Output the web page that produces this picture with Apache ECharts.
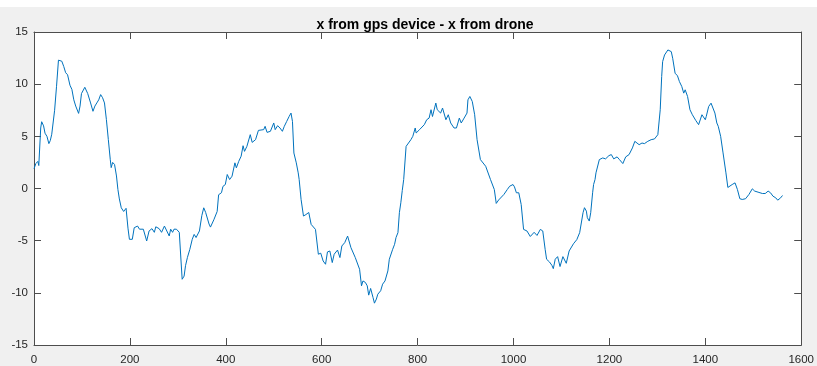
<!DOCTYPE html>
<html>
<head>
<meta charset="utf-8">
<script src="https://cdn.jsdelivr.net/npm/echarts@6/dist/echarts.min.js"></script>
<style>
html,body{margin:0;padding:0;background:#f0f0f0;}
#chart{width:817px;height:366px;}
</style>
</head>
<body>
<div id="chart"></div>
<script>
const titleText = 'x from gps device - x from drone';
const xTicks = [0, 200, 400, 600, 800, 1000, 1200, 1400, 1600];
const yTicks = [-15, -10, -5, 0, 5, 10, 15];

const xs = [0,4,8,10,14,16,20,23,27,31,34,37,43,47,51,54,58,62,66,70,75,79,83,87,93,96,99,106,112,118,123,127,131,135,139,141,143,147,151,155,159,161,164,168,172,175,178,182,187,192,196,199,205,209,216,220,228,235,240,246,251,254,261,266,272,276,282,285,289,292,297,303,306,309,313,316,320,325,330,334,338,342,345,350,354,358,361,365,368,375,382,385,391,394,399,403,408,413,419,422,427,432,436,439,444,451,455,462,465,468,479,482,486,493,496,500,503,508,513,518,522,527,532,536,539,542,547,551,553,557,562,567,571,573,578,582,587,593,598,603,608,612,617,622,626,633,638,642,648,654,656,661,665,670,674,679,683,686,691,695,698,702,707,710,714,717,723,727,732,738,741,745,748,752,755,759,762,765,768,771,776,786,790,795,797,804,814,819,824,828,831,838,841,848,852,859,864,869,876,881,887,891,897,903,905,909,912,914,919,924,931,942,952,960,964,969,980,987,992,999,1002,1006,1011,1016,1021,1028,1035,1043,1049,1056,1061,1066,1069,1075,1080,1083,1087,1092,1097,1103,1107,1110,1116,1125,1132,1138,1145,1148,1152,1154,1158,1161,1165,1167,1170,1172,1179,1186,1192,1199,1204,1209,1216,1221,1228,1234,1241,1248,1253,1257,1262,1268,1273,1280,1287,1294,1301,1306,1309,1311,1315,1322,1329,1332,1337,1342,1346,1351,1355,1358,1363,1368,1373,1380,1386,1389,1393,1396,1400,1402,1407,1412,1416,1420,1424,1427,1432,1437,1443,1447,1449,1456,1462,1467,1472,1477,1484,1491,1498,1503,1510,1519,1525,1531,1536,1541,1547,1551,1557,1561];

const ys = [1.9,2.4,2.6,2.2,5.8,6.4,6.0,5.3,5.0,4.3,4.6,5.2,7.5,9.8,12.3,12.4,12.2,11.7,11.1,10.9,9.9,9.5,8.5,7.9,7.2,7.9,9.1,9.7,9.1,8.2,7.4,7.9,8.2,8.5,9.0,9.1,8.7,8.2,6.6,4.7,2.8,2.0,2.5,2.3,1.2,-0.1,-1.0,-1.85,-2.2,-1.9,-3.8,-4.87,-4.87,-3.76,-3.6,-3.9,-3.9,-5.03,-4.07,-3.85,-4.2,-3.67,-3.85,-4.2,-3.6,-3.6,-4.55,-3.9,-4.2,-3.9,-3.9,-4.2,-6.47,-8.7,-8.4,-7.4,-6.6,-5.83,-4.87,-4.4,-4.7,-4.7,-4.07,-2.6,-1.85,-2.3,-2.2,-3.4,-3.7,-3.0,-2.2,-0.6,-0.4,0.2,0.38,1.34,0.86,1.18,2.46,1.98,2.6,3.1,4.1,3.56,4.04,5.16,4.42,4.68,4.84,5.57,5.64,5.96,5.38,5.48,5.64,6.28,5.64,6.02,5.8,5.48,5.96,6.43,6.9,7.23,6.43,3.4,2.46,1.5,0.86,-1.05,-2.64,-2.5,-2.39,-2.3,-3.44,-3.28,-3.92,-6.3,-6.2,-6.95,-7.26,-6.08,-5.99,-7.1,-6.3,-5.9,-6.62,-5.51,-5.19,-4.56,-4.56,-5.67,-5.83,-6.62,-6.47,-7.74,-9.33,-8.86,-9.0,-9.33,-10.22,-9.58,-10.44,-10.99,-10.6,-10.13,-9.8,-9.17,-8.86,-7.9,-6.78,-6.62,-5.83,-5.35,-4.7,-4.23,-2.32,-1.37,-0.2,0.86,4.04,4.68,5.0,5.8,5.32,5.64,6.12,6.59,6.75,7.55,6.9,8.19,7.55,7.23,7.71,6.59,7.07,6.28,5.8,5.8,6.75,6.28,6.75,7.23,8.5,8.82,8.98,8.34,7.07,4.68,2.77,2.13,0.86,-0.1,-1.43,-1.1,-0.57,-0.1,0.22,0.38,0.16,-0.41,-0.41,-1.53,-3.92,-4.07,-4.6,-4.2,-4.5,-3.92,-4.07,-5.83,-6.78,-7.04,-7.36,-7.68,-6.78,-6.53,-7.48,-6.53,-6.62,-7.17,-5.99,-5.3,-4.9,-4.23,-2.32,-1.84,-2.17,-2.8,-3.12,-2.32,-0.41,0.38,0.86,1.5,2.77,2.93,2.84,3.15,3.25,2.84,3.03,2.77,2.39,3.03,3.25,3.89,4.52,4.52,4.2,4.36,4.3,4.52,4.68,4.75,5.16,7.55,10.73,12.16,12.8,13.28,13.12,12.48,11.05,10.8,10.25,9.77,9.14,9.46,8.82,7.55,7.07,6.53,6.12,5.96,7.07,6.97,6.59,6.91,7.86,8.18,8.12,7.23,6.28,5.96,5.0,3.41,1.5,0.1,-0.03,0.38,0.54,-0.1,-0.98,-1.05,-0.98,-0.57,-0.03,-0.25,-0.35,-0.48,-0.48,-0.25,-0.41,-0.73,-0.9,-1.12,-0.9,-0.67];

const seriesData = xs.map((x, i) => [x, ys[i]]);

const chart = echarts.init(document.getElementById('chart'), null, {renderer: 'canvas'});
const FONT = 'Liberation Sans, Arial, Helvetica, sans-serif';
const axisColor = '#4d4d4d';
const xMin = xTicks[0], xMax = xTicks[xTicks.length - 1];
const yMin = yTicks[0], yMax = yTicks[yTicks.length - 1];
const xInt = xTicks[1] - xTicks[0], yInt = yTicks[1] - yTicks[0];

function xAxisCfg(pos, showLabel) {
  return {
    type: 'value', position: pos, min: xMin, max: xMax, interval: xInt,
    axisLine: {show: true, onZero: false, lineStyle: {color: axisColor, width: 1}},
    axisTick: {show: true, inside: true, length: 7, lineStyle: {color: axisColor}},
    axisLabel: {show: showLabel, color: '#262626', fontSize: 11.5, fontFamily: FONT, margin: 9,
      showMaxLabel: true, showMinLabel: true, formatter: v => String(v)},
    splitLine: {show: false}
  };
}
function yAxisCfg(pos, showLabel) {
  return {
    type: 'value', position: pos, min: yMin, max: yMax, interval: yInt,
    axisLine: {show: true, onZero: false, lineStyle: {color: axisColor, width: 1}},
    axisTick: {show: true, inside: true, length: 7, lineStyle: {color: axisColor}},
    axisLabel: {show: showLabel, color: '#262626', fontSize: 11.5, fontFamily: FONT, margin: 6,
      formatter: v => String(v)},
    splitLine: {show: false}
  };
}

chart.setOption({
  animation: false,
  backgroundColor: '#f0f0f0',
  graphic: [{type: 'rect', left: 0, top: 0, shape: {width: 817, height: 7}, style: {fill: '#ffffff'}, silent: true, z: -10}],
  title: {
    text: titleText, left: 420, top: 13, textAlign: 'center',
    textStyle: {fontSize: 14, fontWeight: 'bold', color: '#000', fontFamily: FONT}
  },
  grid: {left: 34, right: 11, top: 32, bottom: 20, show: true, backgroundColor: '#ffffff', borderWidth: 0, containLabel: false},
  xAxis: [xAxisCfg('bottom', true), xAxisCfg('top', false)],
  yAxis: [yAxisCfg('left', true), yAxisCfg('right', false)],
  series: [{
    type: 'line', data: seriesData, xAxisIndex: 0, yAxisIndex: 0,
    showSymbol: false, symbol: 'none', smooth: false,
    lineStyle: {color: '#0072BD', width: 1}
  }]
});
</script>
</body>
</html>
